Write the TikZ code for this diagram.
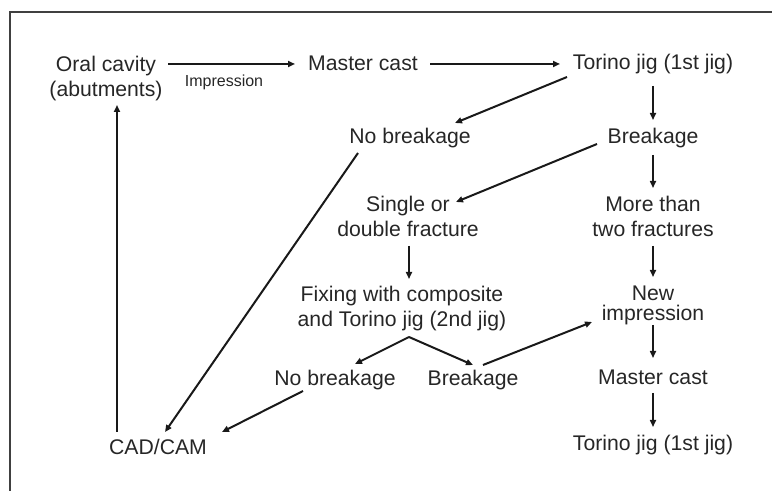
\documentclass[tikz,border=0pt]{standalone}
\usepackage{fontspec}
\setmainfont{Liberation Sans}
\usetikzlibrary{arrows.meta,calc}
\begin{document}
\begin{tikzpicture}[x=0.5pt,y=-0.5pt,
  txt/.style={inner sep=0pt, anchor=base, align=center, text=black!85,
    font=\fontsize{10.6pt}{12.5pt}\selectfont},
  small/.style={inner sep=0pt, anchor=base, text=black!85,
    font=\fontsize{8pt}{9.5pt}\selectfont},
  arr/.style={line width=1pt, black!90, -{Triangle[length=3.5pt,width=3pt]}},
  varr/.style={line width=0.8pt, black!90, -{Triangle[length=3.5pt,width=3pt]}},
  frame/.style={line width=0.6pt, black!75}]
\useasboundingbox (0,0) rectangle (772,491);
\draw[frame] (10,491) -- (10,12) -- (772,12);

% multi-line nodes: base anchor = baseline of the last line
\node[txt] (oral) at (106,97) {Oral cavity\\(abutments)};
\node[small] (imp) at (224,87) {Impression};
\node[txt] (mc1) at (363,71) {Master cast};
\node[txt] (tor1) at (653,70) {Torino jig (1st jig)};
\node[txt] (nb1) at (410,144) {No breakage};
\node[txt] (br1) at (653,144) {Breakage};
\node[txt] (sd) at (408,237) {Single or\\double fracture};
\node[txt] (mt) at (653,237) {More than\\two fractures};
\node[txt] (fix) at (402,327) {Fixing with composite\\and Torino jig (2nd jig)};
\node[txt, font=\fontsize{10.6pt}{10pt}\selectfont] (ni) at (653,321) {New\\impression};
\node[txt] (nb2) at (335,386) {No breakage};
\node[txt] (br2) at (473,386) {Breakage};
\node[txt] (mc2) at (653,385) {Master cast};
\node[txt] (cad) at (158,455) {CAD/CAM};
\node[txt] (tor2) at (653,451) {Torino jig (1st jig)};

\draw[arr] ($(oral.base)+(62,-33)$) -- ($(mc1.base)+(-68,-7)$);
\draw[arr] ($(mc1.base)+(67,-7)$) -- ($(tor1.base)+(-93,-6)$);
\draw[arr] ($(tor1.base)+(-86,7)$) -- ($(nb1.base)+(45,-21)$);
\draw[varr] ($(tor1.base)+(0,16)$) -- ($(br1.base)+(0,-24)$);
\draw[arr] ($(br1.base)+(-56,0)$) -- ($(sd.base)+(48,-35)$);
\draw[varr] ($(br1.base)+(0,11)$) -- ($(mt.base)+(0,-49)$);
\draw[arr] ($(nb1.base)+(-52,9)$) -- ($(cad.base)+(7,-23)$);
\draw[varr] ($(sd.base)+(1,9)$) -- ($(fix.base)+(7,-48)$);
\draw[varr] ($(mt.base)+(0,9)$) -- ($(ni.base)+(0,-44)$);
\draw[arr] ($(fix.base)+(7,10)$) -- ($(nb2.base)+(20,-22)$);
\draw[arr] ($(fix.base)+(7,10)$) -- ($(br2.base)+(0,-21)$);
\draw[arr] ($(br2.base)+(10,-21)$) -- ($(ni.base)+(-61,1)$);
\draw[varr] ($(ni.base)+(0,4)$) -- ($(mc2.base)+(0,-27)$);
\draw[varr] ($(mc2.base)+(0,8)$) -- ($(tor2.base)+(0,-24)$);
\draw[arr] ($(nb2.base)+(-32,5)$) -- ($(cad.base)+(64,-23)$);
\draw[arr, line width=1.2pt] ($(cad.base)+(-41,-23)$) -- ($(oral.base)+(11,8)$);
\end{tikzpicture}
\end{document}
